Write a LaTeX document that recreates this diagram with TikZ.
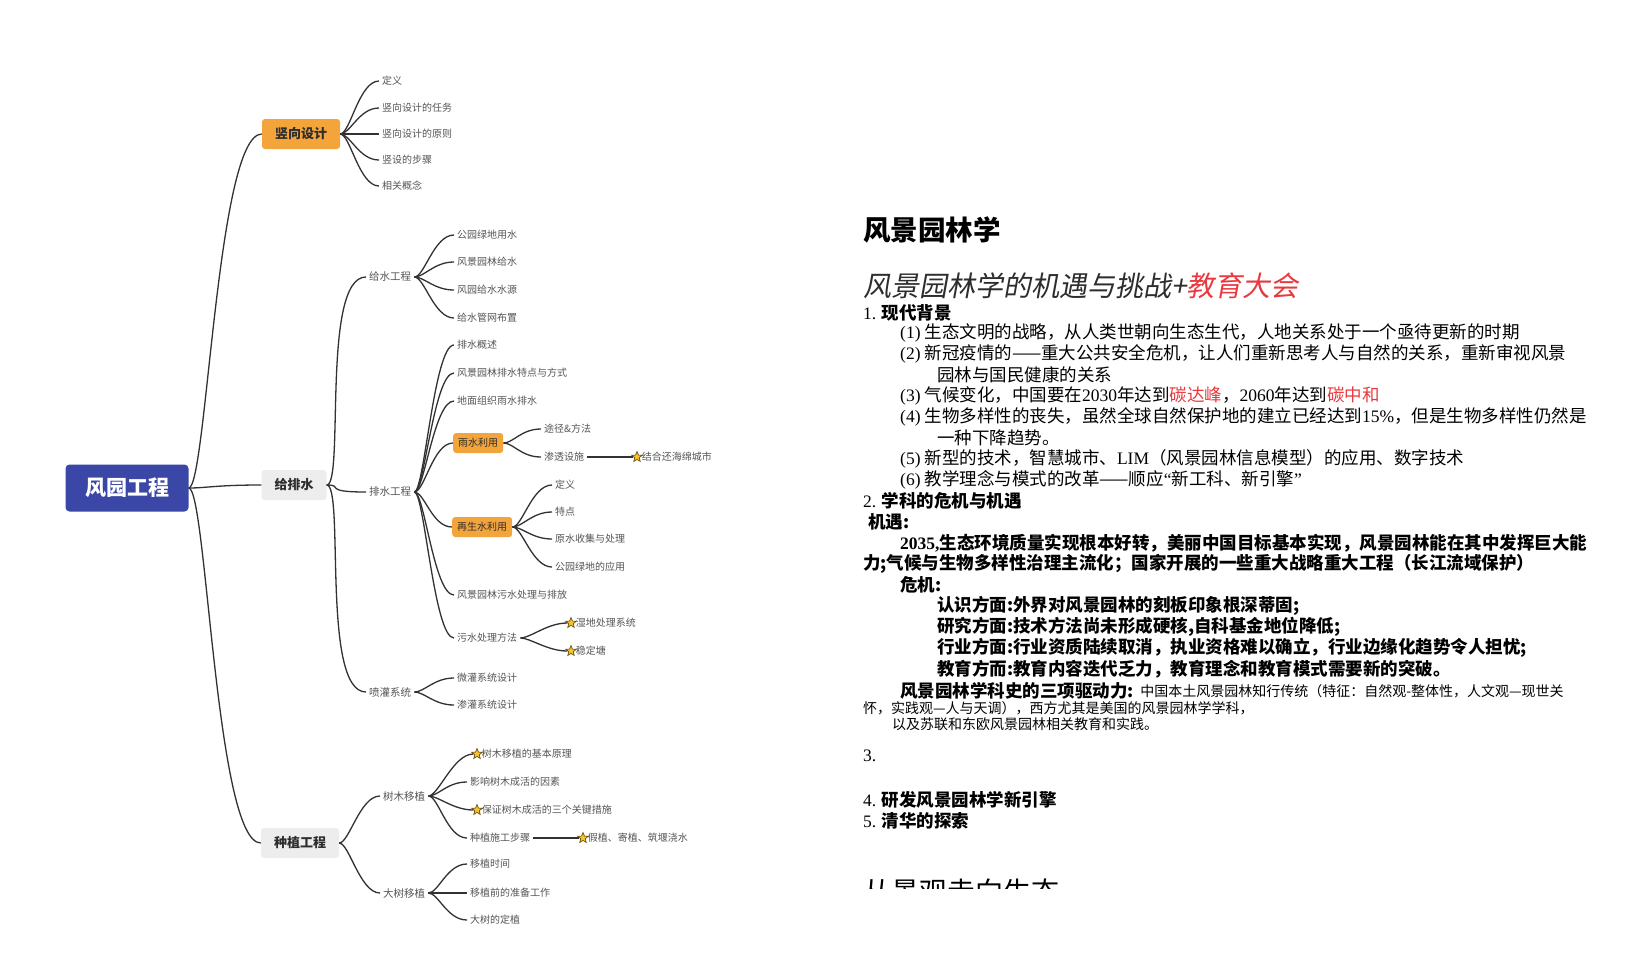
\documentclass[tikz,border=0pt]{standalone}
\usepackage{fontspec}
\setmainfont{Liberation Serif}
\newfontfamily\cjk{Noto Sans CJK SC}
\newfontfamily\cjkslant[FakeSlant=0.18]{Noto Sans CJK SC}
\newfontfamily\latfont{Liberation Serif}
\newcommand\lat[1]{{\latfont #1}}
\usetikzlibrary{positioning,shapes.geometric}

\definecolor{rootblue}{RGB}{58,71,166}
\definecolor{hotorange}{RGB}{243,165,60}
\definecolor{boxgray}{RGB}{237,237,237}
\definecolor{linegray}{RGB}{50,50,50}
\definecolor{leafgray}{RGB}{85,85,85}
\definecolor{darktext}{RGB}{45,45,45}
\definecolor{hotred}{RGB}{232,58,62}
\definecolor{staryellow}{RGB}{246,196,40}
\definecolor{starbrown}{RGB}{110,85,20}

\tikzset{
  link/.style={draw=linegray, line width=1.3pt},
  bough/.style={to path={.. controls +(18,0) and +(-45,0) .. (\tikztotarget)}},
  twig/.style={to path={.. controls +(10,0) and +(-20,0) .. (\tikztotarget)}},
  rootbox/.style={fill=rootblue, rounded corners=4pt, minimum width=123pt, minimum height=47pt,
    text=white, font=\cjk\bfseries\fontsize{21}{21}\selectfont},
  mainbox/.style={rounded corners=3pt, minimum height=30pt, inner xsep=13pt, text=darktext,
    font=\cjk\bfseries\fontsize{13}{13}\selectfont},
  hotbox/.style={fill=hotorange, rounded corners=3pt, minimum height=20pt, inner xsep=5pt,
    anchor=west, text=darktext, font=\cjk\fontsize{10}{10}\selectfont},
  subtopic/.style={anchor=west, inner xsep=3pt, text=leafgray, font=\cjk\fontsize{10.5}{10.5}\selectfont},
  leaf/.style={anchor=west, inner xsep=3pt, text=leafgray, font=\cjk\fontsize{10}{10}\selectfont},
  starmark/.style={star, star points=5, star point ratio=2.3, minimum size=11pt, inner sep=0pt,
    fill=staryellow, draw=starbrown, line width=0.7pt},
  para/.style={anchor=west, inner sep=0pt, text=black, font=\cjk\fontsize{17.5}{21}\selectfont},
  parabold/.style={para, font=\cjk\bfseries\fontsize{17.5}{21}\selectfont},
  parasmall/.style={para, font=\cjk\fontsize{14}{16}\selectfont}
}

\begin{document}
\begin{tikzpicture}[x=1pt, y=-1pt]
\fill[white] (0,0) rectangle (1650,959);
\useasboundingbox (0,0) rectangle (1650,959);

% root and main branches
\node[rootbox] (root) at (127,488) {风园工程};
\node[mainbox, fill=hotorange] (vd) at (301,134) {竖向设计};
\node[mainbox, fill=boxgray] (ws) at (294,485) {给排水};
\node[mainbox, fill=boxgray] (pe) at (300,843) {种植工程};
\draw[link] (root.east) to[bough] (vd.west);
\draw[link] (root.east) to[bough] (ws.west);
\draw[link] (root.east) to[bough] (pe.west);

% 竖向设计
\foreach \i/\y/\txt in {1/81/定义, 2/108/竖向设计的任务, 3/134/竖向设计的原则, 4/160/竖设的步骤, 5/186/相关概念}{
  \node[leaf] (vd\i) at (379,\y) {\txt};
  \draw[link] (vd.east) to[twig] (vd\i.west);
}

% 给排水
\node[subtopic] (supply) at (366,277) {给水工程};
\node[subtopic] (drain) at (366,492) {排水工程};
\node[subtopic] (spray) at (366,692) {喷灌系统};
\foreach \n in {supply, drain, spray}
  \draw[link] (ws.east) to[bough] (\n.west);

\foreach \i/\y/\txt in {1/235/公园绿地用水, 2/262/风景园林给水, 3/290/风园给水水源, 4/318/给水管网布置}{
  \node[leaf] (supply\i) at (454,\y) {\txt};
  \draw[link] (supply.east) to[twig] (supply\i.west);
}

\node[leaf] (drain1) at (454,345) {排水概述};
\node[leaf] (drain2) at (454,373) {风景园林排水特点与方式};
\node[leaf] (drain3) at (454,401) {地面组织雨水排水};
\node[hotbox] (rain) at (453,443) {雨水利用};
\node[hotbox] (reuse) at (452,527) {再生水利用};
\node[leaf] (drain6) at (454,595) {风景园林污水处理与排放};
\node[leaf] (sewage) at (454,638) {污水处理方法};
\foreach \n in {drain1, drain2, drain3, rain, reuse, drain6, sewage}
  \draw[link] (drain.east) to[twig] (\n.west);

\node[leaf] (rain1) at (541,429) {途径\&方法};
\node[leaf] (rain2) at (541,457) {渗透设施};
\draw[link] (rain.east) to[twig] (rain1.west);
\draw[link] (rain.east) to[twig] (rain2.west);
\node[starmark] (sponge) at (637,457) {};
\node[leaf, right=-2pt of sponge] (spongetxt) {结合还海绵城市};
\draw[link] (rain2.east) -- (sponge.west);

\foreach \i/\y/\txt in {1/485/定义, 2/512/特点, 3/539/原水收集与处理, 4/567/公园绿地的应用}{
  \node[leaf] (reuse\i) at (552,\y) {\txt};
  \draw[link] (reuse.east) to[twig] (reuse\i.west);
}

\node[starmark] (wet) at (571,623) {};
\node[leaf, right=-2pt of wet] (wettxt) {湿地处理系统};
\node[starmark] (pond) at (571,651) {};
\node[leaf, right=-2pt of pond] (pondtxt) {稳定塘};
\draw[link] (sewage.east) to[twig] (wet.west);
\draw[link] (sewage.east) to[twig] (pond.west);

\node[leaf] (spray1) at (454,678) {微灌系统设计};
\node[leaf] (spray2) at (454,705) {渗灌系统设计};
\draw[link] (spray.east) to[twig] (spray1.west);
\draw[link] (spray.east) to[twig] (spray2.west);

% 种植工程
\node[subtopic] (move) at (380,796) {树木移植};
\node[subtopic] (big) at (380,893) {大树移植};
\draw[link] (pe.east) to[twig] (move.west);
\draw[link] (pe.east) to[twig] (big.west);

\node[starmark] (move1) at (477,754) {};
\node[leaf, right=-2pt of move1] (move1txt) {树木移植的基本原理};
\node[leaf] (move2) at (467,782) {影响树木成活的因素};
\node[starmark] (move3) at (477,810) {};
\node[leaf, right=-2pt of move3] (move3txt) {保证树木成活的三个关键措施};
\node[leaf] (move4) at (467,838) {种植施工步骤};
\foreach \n in {move1, move2, move3, move4}
  \draw[link] (move.east) to[twig] (\n.west);
\node[starmark] (steps) at (583,838) {};
\node[leaf, right=-2pt of steps] (stepstxt) {假植、寄植、筑堰浇水};
\draw[link] (move4.east) -- (steps.west);

\foreach \i/\y/\txt in {1/864/移植时间, 2/893/移植前的准备工作, 3/920/大树的定植}{
  \node[leaf] (big\i) at (467,\y) {\txt};
  \draw[link] (big.east) to[twig] (big\i.west);
}

% notes on the right
\node[anchor=west, inner sep=0pt, font=\cjk\bfseries\fontsize{27.5}{30}\selectfont] (title) at (863,230) {风景园林学};
\node[anchor=west, inner sep=0pt, text=darktext, font=\cjkslant\fontsize{28}{30}\selectfont] (subtitle) at (863,286)
  {风景园林学的机遇与挑战+\textcolor{hotred}{教育大会}};

\node[parabold] (h1) at (863,313) {{\mdseries\lat{1.}} 现代背景};
\node[para] (p1) at (900,333) {\lat{(1)} 生态文明的战略，从人类世朝向生态生代，人地关系处于一个亟待更新的时期};
\node[para] (p2) at (900,354) {\lat{(2)} 新冠疫情的——重大公共安全危机，让人们重新思考人与自然的关系，重新审视风景};
\node[para] (p2b) at (937,375) {园林与国民健康的关系};
\node[para] (p3) at (900,396) {\lat{(3)} 气候变化，中国要在\lat{2030}年达到\textcolor{hotred}{碳达峰}，\lat{2060}年达到\textcolor{hotred}{碳中和}};
\node[para] (p4) at (900,417) {\lat{(4)} 生物多样性的丧失，虽然全球自然保护地的建立已经达到\lat{15\%}，但是生物多样性仍然是};
\node[para] (p4b) at (937,438) {一种下降趋势。};
\node[para] (p5) at (900,459) {\lat{(5)} 新型的技术，智慧城市、\lat{LIM}（风景园林信息模型）的应用、数字技术};
\node[para] (p6) at (900,480) {\lat{(6)} 教学理念与模式的改革——顺应\lat{“}新工科、新引擎\lat{”}};

\node[parabold] (h2) at (863,501) {{\mdseries\lat{2.}} 学科的危机与机遇};
\node[parabold] (chance) at (868,522) {机遇:};
\node[parabold] (c1) at (900,543) {\lat{2035,}生态环境质量实现根本好转，美丽中国目标基本实现，风景园林能在其中发挥巨大能};
\node[parabold] (c1b) at (863,564) {力;气候与生物多样性治理主流化；国家开展的一些重大战略重大工程（长江流域保护）};
\node[parabold] (crisis) at (900,585) {危机:};
\node[parabold] (k1) at (937,606) {认识方面:外界对风景园林的刻板印象根深蒂固;};
\node[parabold] (k2) at (937,627) {研究方面:技术方法尚未形成硬核,自科基金地位降低;};
\node[parabold] (k3) at (937,648) {行业方面:行业资质陆续取消，执业资格难以确立，行业边缘化趋势令人担忧;};
\node[parabold] (k4) at (937,669) {教育方而:教育内容迭代乏力，教育理念和教育模式需要新的突破。};

\node[parabold] (drive) at (900,691) {风景园林学科史的三项驱动力:};
\node[parasmall, right=6pt of drive] (drivetxt) {中国本土风景园林知行传统（特征：自然观-整体性，人文观—现世关};
\node[parasmall] (drive2) at (863,708) {怀，实践观—人与天调），西方尤其是美国的风景园林学学科，};
\node[parasmall] (drive3) at (892,724) {以及苏联和东欧风景园林相关教育和实践。};

\node[para] (h3) at (863,756) {\lat{3.}};
\node[parabold] (h4) at (863,800) {{\mdseries\lat{4.}} 研发风景园林学新引擎};
\node[parabold] (h5) at (863,821) {{\mdseries\lat{5.}} 清华的探索};

\begin{scope}
  \clip (855,860) rectangle (1120,888);
  \node[anchor=west, inner sep=0pt, font=\cjk\fontsize{28}{30}\selectfont] (nexthead) at (863,892) {从景观走向生态};
\end{scope}
\end{tikzpicture}
\end{document}
